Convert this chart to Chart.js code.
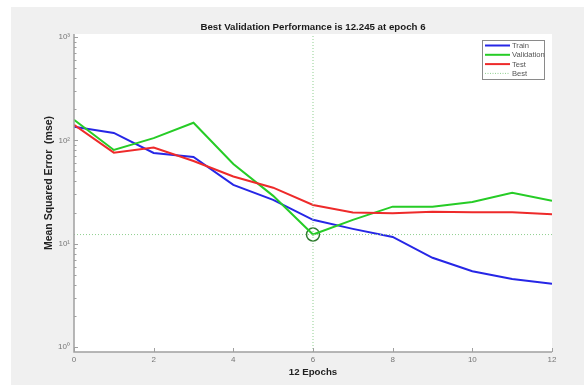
<!DOCTYPE html>
<html>
<head>
<meta charset="utf-8">
<script src="https://cdn.jsdelivr.net/npm/chart.js@4.4.1/dist/chart.umd.min.js"></script>
<style>
  body { margin: 0; background: #fff; }
  #wrap { position: absolute; left: 11px; top: 7px; width: 573px; height: 378px; }
</style>
</head>
<body>
<div id="wrap"><canvas id="perf"></canvas></div>
<script>
// values
const epochs = [0, 1, 2, 3, 4, 5, 6, 7, 8, 9, 10, 11, 12];
const train = [135, 118, 75.5, 69, 37, 26.5, 17, 13.9, 11.6, 7.3, 5.4, 4.55, 4.1];
const validation = [158, 80.7, 105, 148, 59, 29, 12.245, 17, 22.8, 22.8, 25.3, 31, 26];
const test = [141, 76, 85, 63, 44.6, 34.8, 23.7, 20, 19.7, 20.3, 20.1, 20.1, 19.3];
const bestEpoch = 6;
const bestValue = 12.245;
const yMin = 0.894, yMax = 1069;
const xTicks = [0, 2, 4, 6, 8, 10, 12];
const yTicks = [1, 10, 100, 1000];
const sup = ['\u2070', '\u00b9', '\u00b2', '\u00b3'];

const FONT = 'Liberation Sans, Arial, Helvetica, sans-serif';

const pts = arr => epochs.map((e, i) => ({x: e, y: arr[i]}));

const legendItems = [
  {text: 'Train', color: '#2626e6', dash: []},
  {text: 'Validation', color: '#26cc26', dash: []},
  {text: 'Test', color: '#ee2a2a', dash: []},
  {text: 'Best', color: '#8fcf8f', dash: [1, 1.5], width: 1}
];

const matlabLook = {
  id: 'matlabLook',
  beforeDraw(chart) {
    const {ctx, chartArea: a} = chart;
    ctx.save();
    ctx.fillStyle = '#f0f0f0';
    ctx.fillRect(0, 0, chart.width, chart.height);
    ctx.fillStyle = '#fff';
    ctx.fillRect(a.left, a.top, a.right - a.left, a.bottom - a.top);
    ctx.restore();
  },
  afterDraw(chart) {
    const {ctx, chartArea: a, scales: {x, y}} = chart;
    ctx.save();
    // title
    ctx.fillStyle = '#1a1a1a';
    ctx.font = 'bold 9.7px ' + FONT;
    ctx.textAlign = 'center';
    ctx.textBaseline = 'middle';
    ctx.fillText('Best Validation Performance is ' + bestValue + ' at epoch ' + bestEpoch, (a.left + a.right) / 2, 20);

    // y axis title
    ctx.save();
    ctx.translate(38, 176);
    ctx.rotate(-Math.PI / 2);
    ctx.font = 'bold 10.5px ' + FONT;
    ctx.fillStyle = '#222';
    ctx.fillText('Mean Squared Error  (mse)', 0, 0);
    ctx.restore();

    // axes
    ctx.strokeStyle = '#a0a0a0';
    ctx.lineWidth = 1.5;
    ctx.beginPath();
    ctx.moveTo(a.left, a.top);
    ctx.lineTo(a.left, a.bottom);
    ctx.lineTo(a.right, a.bottom);
    ctx.stroke();

    ctx.lineWidth = 1;
    ctx.beginPath();
    xTicks.forEach(v => {
      const px = Math.round(x.getPixelForValue(v)) + 0.5;
      ctx.moveTo(px, a.bottom);
      ctx.lineTo(px, a.bottom - 4);
    });
    for (let d = 0; d < 3; d++) {
      for (let k = 1; k <= 9; k++) {
        const py = Math.round(y.getPixelForValue(k * Math.pow(10, d))) + 0.5;
        ctx.moveTo(a.left, py);
        ctx.lineTo(a.left + (k === 1 ? 4 : 2.5), py);
      }
    }
    const p3 = Math.round(y.getPixelForValue(1000)) + 0.5;
    ctx.moveTo(a.left, p3);
    ctx.lineTo(a.left + 4, p3);
    ctx.stroke();

    // legend box
    const lx = a.left + 408, ly = a.top + 6, lw = 62, lh = 39;
    ctx.fillStyle = '#fff';
    ctx.fillRect(lx, ly, lw, lh);
    ctx.strokeStyle = '#8a8a8a';
    ctx.lineWidth = 1;
    ctx.strokeRect(lx + 0.5, ly + 0.5, lw, lh);
    ctx.font = '7.6px ' + FONT;
    ctx.textAlign = 'left';
    legendItems.forEach((it, i) => {
      const ry = ly + 5.5 + i * 9.3;
      ctx.strokeStyle = it.color;
      ctx.lineWidth = it.width || 2;
      ctx.setLineDash(it.dash);
      ctx.beginPath();
      ctx.moveTo(lx + 3, ry);
      ctx.lineTo(lx + 28, ry);
      ctx.stroke();
      ctx.setLineDash([]);
      ctx.fillStyle = '#555';
      ctx.fillText(it.text, lx + 30, ry + 0.5);
    });
    ctx.restore();
  }
};

new Chart(document.getElementById('perf'), {
  type: 'line',
  data: {
    datasets: [
      {
        label: 'Best',
        data: [{x: bestEpoch, y: yMin}, {x: bestEpoch, y: yMax}],
        borderColor: '#8fcf8f', borderWidth: 1, borderDash: [1, 2], pointRadius: 0
      },
      {
        label: 'Best',
        data: [{x: 0, y: bestValue}, {x: 12, y: bestValue}],
        borderColor: '#8fcf8f', borderWidth: 1, borderDash: [1, 2], pointRadius: 0
      },
      {label: 'Test', data: pts(test), borderColor: '#ee2a2a', borderWidth: 2, pointRadius: 0},
      {label: 'Validation', data: pts(validation), borderColor: '#26cc26', borderWidth: 2, pointRadius: 0},
      {label: 'Train', data: pts(train), borderColor: '#2626e6', borderWidth: 2, pointRadius: 0},
      {
        label: 'BestPoint',
        data: [{x: bestEpoch, y: bestValue}],
        showLine: false, pointRadius: 6.5, pointBorderWidth: 1.5,
        pointBorderColor: '#2f7a2f', pointBackgroundColor: 'rgba(0,0,0,0)'
      }
    ]
  },
  options: {
    responsive: true,
    maintainAspectRatio: false,
    animation: false,
    layout: {padding: {top: 27, right: 32, left: 0, bottom: 0}},
    plugins: {
      legend: {display: false},
      tooltip: {enabled: false},
      title: {display: false}
    },
    scales: {
      x: {
        type: 'linear',
        min: 0, max: 12,
        afterBuildTicks: s => { s.ticks = xTicks.map(v => ({value: v})); },
        afterFit: s => { s.height = 33; },
        grid: {display: false, drawTicks: false},
        border: {display: false},
        ticks: {padding: 3, color: '#777', font: {size: 8, family: FONT}},
        title: {
          display: true, text: '12 Epochs', color: '#222',
          font: {size: 9.7, weight: 'bold', family: FONT},
          padding: {top: 0, bottom: 7}
        }
      },
      y: {
        type: 'logarithmic',
        min: yMin, max: yMax,
        afterBuildTicks: s => { s.ticks = yTicks.map(v => ({value: v})); },
        afterFit: s => { s.width = 63; },
        grid: {display: false, drawTicks: false},
        border: {display: false},
        ticks: {
          padding: 4, color: '#777', font: {size: 8, family: FONT},
          callback: v => '10' + sup[Math.round(Math.log10(v))]
        },
        title: {display: false}
      }
    }
  },
  plugins: [matlabLook]
});
</script>
</body>
</html>
